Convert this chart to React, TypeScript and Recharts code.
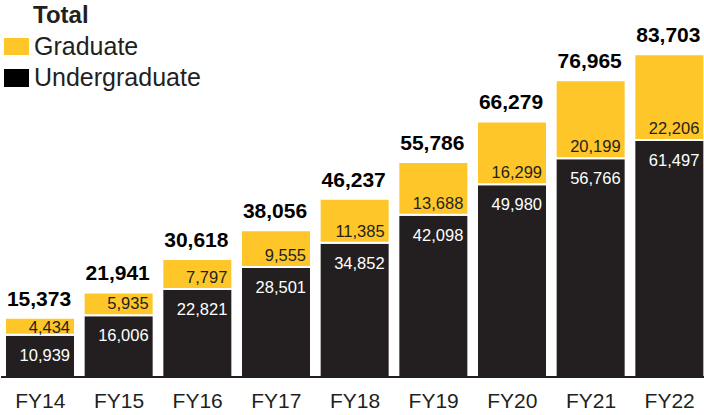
import React from 'react';
import { BarChart, Bar, XAxis, YAxis, LabelList, Legend } from 'recharts';

const categories = ['FY14', 'FY15', 'FY16', 'FY17', 'FY18', 'FY19', 'FY20', 'FY21', 'FY22'];
const undergraduate = [10939, 16006, 22821, 28501, 34852, 42098, 49980, 56766, 61497];
const graduate = [4434, 5935, 7797, 9555, 11385, 13688, 16299, 20199, 22206];
const totals = [15373, 21941, 30618, 38056, 46237, 55786, 66279, 76965, 83703];

const data = categories.map((c, i) => ({
  name: c,
  undergraduate: undergraduate[i],
  graduate: graduate[i],
  total: totals[i],
}));

const FONT = '"Liberation Sans", Arial, Helvetica, sans-serif';
const DARK = '#231f20';
const YELLOW = '#ffc629';

const fmt = (v: number) => v.toLocaleString('en-US');

const UgLabel = (props: any) => {
  const { x, y, width, value } = props;
  return (
    <text x={x + width - 5} y={y + 26} textAnchor="end" fill="#ffffff" fontSize={16.5} fontFamily={FONT}>
      {fmt(value)}
    </text>
  );
};

const GradLabel = (props: any) => {
  const { x, y, width, height, value, index } = props;
  const by = Math.max(y + height - 6, y + 15);
  return (
    <g>
      <text x={x + width - 5} y={by} textAnchor="end" fill={DARK} fontSize={16.5} fontFamily={FONT}>
        {fmt(value)}
      </text>
      <text x={x + width / 2 - 1} y={y - 12} textAnchor="middle" fill="#000" fontSize={21} fontWeight="bold" fontFamily={FONT}>
        {fmt(totals[index])}
      </text>
    </g>
  );
};

const LegendContent = () => (
  <svg width={240} height={100} style={{ display: 'block' }}>
    <text x={33} y={23} fontSize={24} fontWeight="bold" fill={DARK} fontFamily={FONT}>Total</text>
    <rect x={4} y={38} width={25} height={17} fill={YELLOW} />
    <text x={34} y={55} fontSize={25} fill={DARK} fontFamily={FONT}>Graduate</text>
    <rect x={4} y={69} width={25} height={18} fill="#000" />
    <text x={34} y={86} fontSize={25} fill={DARK} fontFamily={FONT}>Undergraduate</text>
  </svg>
);

export default function App() {
  return (
    <div style={{ position: 'absolute', left: 0, top: 0, width: 704, height: 415, overflow: 'hidden', background: '#fff' }}>
      <BarChart
        width={709}
        height={415}
        data={data}
        margin={{ top: 30, right: 0, bottom: 0, left: 1 }}
        barSize={70}
      >
        <YAxis hide domain={[0, 90000]} />
        <XAxis
          dataKey="name"
          height={38}
          axisLine={{ stroke: DARK, strokeWidth: 2 }}
          tickLine={false}
          tickSize={0}
          tickMargin={16}
          tick={{ fontSize: 21, fill: DARK, fontFamily: FONT }}
          interval={0}
        />
        <Legend
          layout="vertical"
          align="center"
          verticalAlign="middle"
          content={LegendContent}
          wrapperStyle={{ position: 'absolute', top: 0, left: 0, width: 240, height: 100 }}
        />
        <Bar dataKey="undergraduate" stackId="a" fill={DARK} stroke="#ffffff" strokeWidth={2} isAnimationActive={false}>
          <LabelList dataKey="undergraduate" content={UgLabel} />
        </Bar>
        <Bar dataKey="graduate" stackId="a" fill={YELLOW} stroke="#ffffff" strokeWidth={2} isAnimationActive={false}>
          <LabelList dataKey="graduate" content={GradLabel} />
        </Bar>
      </BarChart>
    </div>
  );
}
